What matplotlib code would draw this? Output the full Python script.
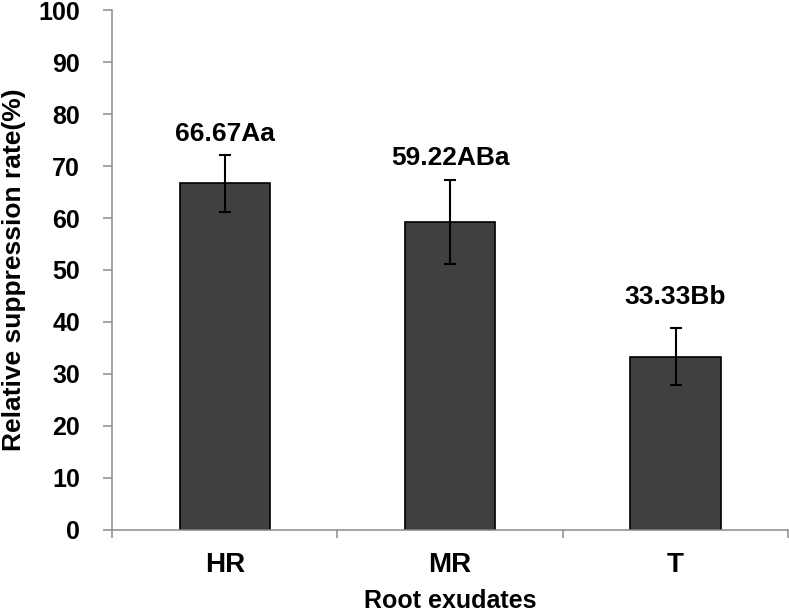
import numpy as np
import matplotlib
matplotlib.use('Agg')
import matplotlib.pyplot as plt

# Relative suppression rate by root exudate type
categories = ['HR', 'MR', 'T']
values = [66.67, 59.22, 33.33]
errors = [5.56, 8.1, 5.56]
labels = ['66.67Aa', '59.22ABa', '33.33Bb']
label_y = [74.9, 70.2, 43.4]

plt.rcParams['font.family'] = ['Liberation Sans', 'DejaVu Sans']
plt.rcParams['font.weight'] = 'bold'

fig = plt.figure(figsize=(7.89, 6.13), dpi=100)
ax = fig.add_axes([0.142, 0.1362, 0.857, 0.8467])

x = np.arange(len(categories))
ax.bar(x, values, width=0.4, color='#404040', edgecolor='black', linewidth=1.2,
       yerr=errors, error_kw=dict(ecolor='black', elinewidth=1.5, capsize=4.3, capthick=1.5))

for xi, lab, ly in zip(x, labels, label_y):
    ax.text(xi, ly, lab, ha='center', va='baseline', fontsize=19, fontweight='bold')

ax.set_xlim(-0.5, 2.5)
ax.set_ylim(0, 100)
ax.set_yticks(np.arange(0, 101, 10))
ax.set_xticks(x)
ax.set_xticklabels(categories, fontsize=20, fontweight='bold')
ax.set_xticks(np.arange(-0.5, 2.6, 1), minor=True)
ax.tick_params(axis='x', which='major', length=0, pad=16)
ax.tick_params(axis='x', which='minor', length=5.5, color='#8c8c8c', width=1.1)
ax.tick_params(axis='y', length=6.5, color='#8c8c8c', width=1.1, labelsize=18, pad=16.5)
for t in ax.get_yticklabels():
    t.set_fontweight('bold')

for s in ['top', 'right']:
    ax.spines[s].set_visible(False)
for s in ['left', 'bottom']:
    ax.spines[s].set_color('#8c8c8c')
    ax.spines[s].set_linewidth(1.1)

ax.set_xlabel('Root exudates', fontsize=18, fontweight='bold')
ax.set_ylabel('Relative suppression rate(%)', fontsize=19, fontweight='bold')
ax.xaxis.set_label_coords(0.5, -0.1146)
ax.yaxis.set_label_coords(-0.127, 0.5)

plt.savefig('out.png', dpi=100)
